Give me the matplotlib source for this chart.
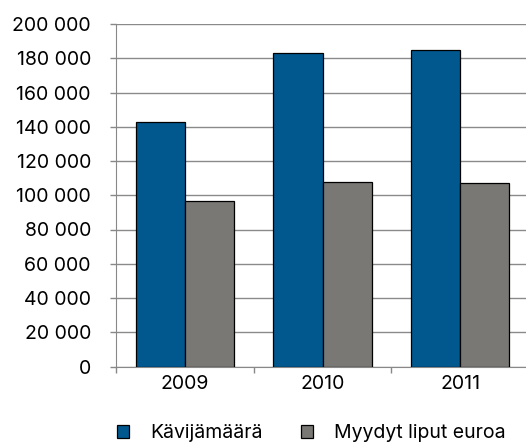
import matplotlib
matplotlib.use("Agg")
import matplotlib.pyplot as plt
import numpy as np
from matplotlib.ticker import FuncFormatter

plt.rcParams['font.family'] = ['Inter', 'DejaVu Sans']

years = ["2009", "2010", "2011"]
visitors = [143000, 183000, 185000]
tickets = [96500, 108000, 107400]
series_names = ["Kävijämäärä", "Myydyt liput euroa"]
colors = ["#00588F", "#7A7874"]

fig = plt.figure(figsize=(5.26, 4.45), dpi=100)
ax = fig.add_axes([116/526, 78.5/445, 1 - 116/526 + 0.006, (366.5-24)/445])

x = np.arange(len(years))
w = 0.357
ax.bar(x - w/2, visitors, w, color=colors[0], edgecolor="black", linewidth=0.9, label=series_names[0], zorder=3)
ax.bar(x + w/2, tickets, w, color=colors[1], edgecolor="black", linewidth=0.9, label=series_names[1], zorder=3)

ax.set_xlim(-0.5, 2.5)
ax.set_ylim(0, 200000)
ax.set_yticks(np.arange(0, 200001, 20000))
ax.yaxis.set_major_formatter(FuncFormatter(lambda v, p: f"{int(v):,}".replace(",", " ")))
ax.set_xticks(x)
ax.set_xticklabels(years)
ax.set_xticks([-0.5, 0.5, 1.5, 2.5], minor=True)
ax.tick_params(axis='x', which='major', length=0, labelsize=14, pad=6)
ax.tick_params(axis='x', which='minor', length=4, color="#888888", width=1)
ax.tick_params(axis='y', length=4, color="#888888", width=1, labelsize=14, pad=14)

ax.grid(axis='y', color="#8a8a8a", linewidth=1, zorder=0)
for s in ['top', 'right']:
    ax.spines[s].set_visible(False)
ax.spines['left'].set_color("#888888")
ax.spines['bottom'].set_color("#888888")

leg = fig.legend(loc='center left', bbox_to_anchor=(117/526, 11.5/445), ncol=2, frameon=False,
                 fontsize=14, handlelength=0.6, handleheight=0.6, columnspacing=2.0,
                 handletextpad=1.1, borderpad=0, borderaxespad=0)

fig.savefig("out.png", dpi=100)
